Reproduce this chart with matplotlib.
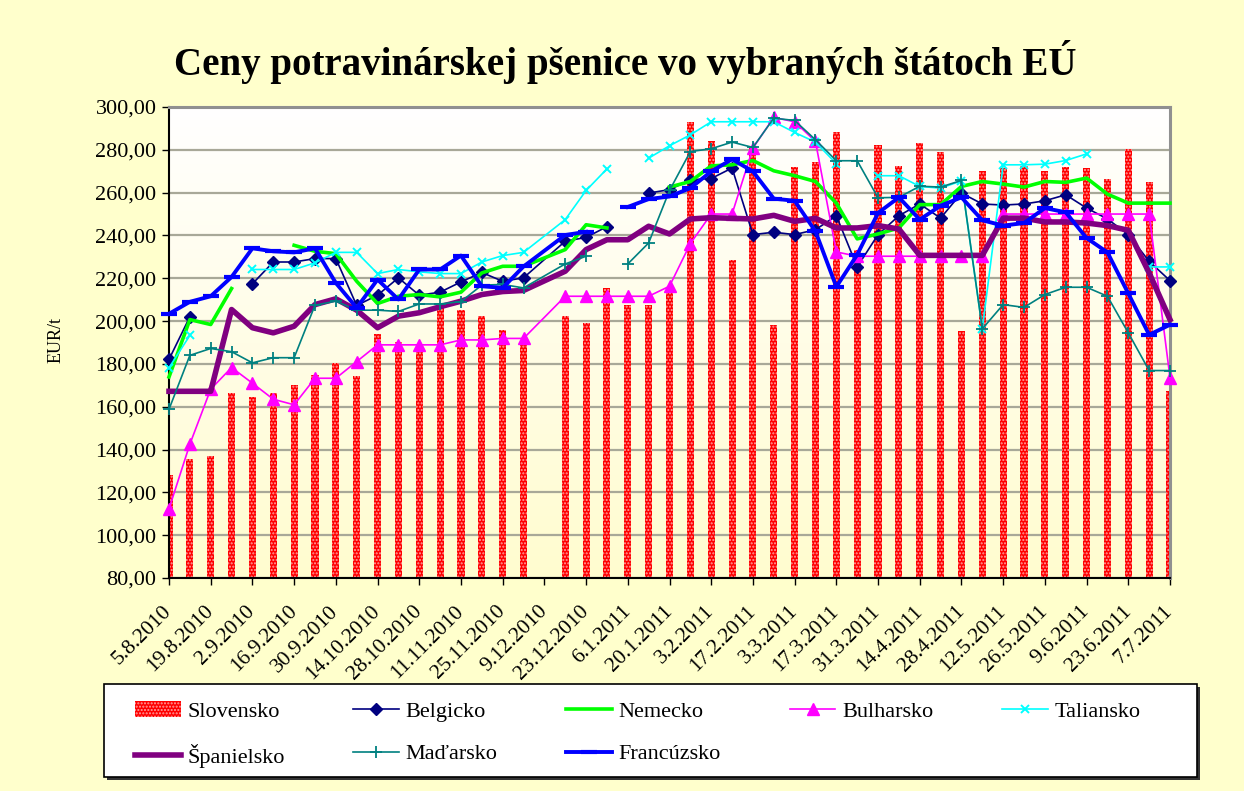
import numpy as np
import pandas as pd
import matplotlib
matplotlib.use("Agg")
import matplotlib.pyplot as plt
from matplotlib.ticker import FuncFormatter, MultipleLocator
from matplotlib.colors import LinearSegmentedColormap
from matplotlib.patches import Rectangle

plt.rcParams['font.family'] = ['Liberation Serif', 'DejaVu Serif']
plt.rcParams['hatch.linewidth'] = 1.0

nan = np.nan

# weekly quotations (no data for 9.12.2010)
dates = ["5.8.2010", "12.8.2010", "19.8.2010", "26.8.2010", "2.9.2010", "9.9.2010",
         "16.9.2010", "23.9.2010", "30.9.2010", "7.10.2010", "14.10.2010", "21.10.2010",
         "28.10.2010", "4.11.2010", "11.11.2010", "18.11.2010", "25.11.2010", "2.12.2010",
         "16.12.2010", "23.12.2010", "30.12.2010", "6.1.2011", "13.1.2011", "20.1.2011",
         "27.1.2011", "3.2.2011", "10.2.2011", "17.2.2011", "24.2.2011", "3.3.2011",
         "10.3.2011", "17.3.2011", "24.3.2011", "31.3.2011", "7.4.2011", "14.4.2011",
         "21.4.2011", "28.4.2011", "5.5.2011", "12.5.2011", "19.5.2011", "26.5.2011",
         "2.6.2011", "9.6.2011", "16.6.2011", "23.6.2011", "30.6.2011", "7.7.2011"]

tick_labels = ["5.8.2010", "19.8.2010", "2.9.2010", "16.9.2010", "30.9.2010", "14.10.2010",
               "28.10.2010", "11.11.2010", "25.11.2010", "9.12.2010", "23.12.2010", "6.1.2011",
               "20.1.2011", "3.2.2011", "17.2.2011", "3.3.2011", "17.3.2011", "31.3.2011",
               "14.4.2011", "28.4.2011", "12.5.2011", "26.5.2011", "9.6.2011", "23.6.2011",
               "7.7.2011"]

slovensko = [128.0, 135.7, 137.1, 166.6, 164.6, 166.6, 170.3, 174.6, 180.5, 174.2, 194.1, 190.3,
             188.6, 207.3, 205.4, 202.6, 195.8, 188.6,
             202.6, 198.9, 215.5, 207.3, 207.3, 214.0, 293.1, 284.2, 228.7, 281.6, 198.0, 272.2,
             274.1, 288.4, 233.2, 282.3, 272.5, 283.4, 278.8, 195.2, 270.2, 271.5, 272.5, 269.9,
             272.1, 271.6, 266.5, 280.5, 265.1, 167.2]

belgicko = [182.1, 202.0, nan, nan, 217.4, 227.6, 227.6, 229.2, 229.2, 207.3, 212.1, 220.2,
            212.1, 213.5, 218.3, 222.7, 218.6, 220.2,
            237.3, 239.1, 244.1, nan, 259.8, 261.4, 266.0, 266.6, 271.5, 240.4, 241.5, 240.4,
            242.7, 249.2, 225.3, 240.4, 249.2, 254.7, 248.1, 259.8, 254.7, 254.2, 254.7, 256.2,
            259.0, 252.8, 247.7, 240.4, 227.9, 218.9]

nemecko = [173.9, 200.7, 198.4, 215.2, nan, nan, 235.4, 232.6, 231.5, 218.6, 208.2, 211.6,
           212.4, 211.3, 213.5, 222.5, 225.6, 225.6,
           233.4, 245.0, 243.5, nan, nan, 262.6, 265.2, 272.5, 273.0, 275.0, 270.2, 267.9,
           265.2, 255.1, 238.4, 240.7, 243.5, 254.4, 254.4, 262.9, 265.2, 264.0, 262.6, 265.2,
           264.8, 266.8, 259.3, 255.1, 255.1, 255.1]

bulharsko = [112.3, 142.5, 168.2, 178.3, 171.0, 163.5, 160.9, 173.3, 173.3, 181.1, 188.9, 188.9,
             188.9, 188.9, 191.2, 191.2, 191.9, 191.9,
             211.6, 211.6, 211.6, 211.6, 211.6, 216.3, 236.2, 250.0, 250.0, 280.8, 295.1, 293.1,
             283.9, 232.3, 230.3, 230.3, 230.3, 230.3, 230.3, 230.3, 230.3, 250.0, 250.0, 250.0,
             250.0, 250.0, 250.0, 250.0, 250.0, 173.6]

taliansko = [178.2, 193.3, nan, nan, 224.1, 224.1, 224.1, 227.2, 232.1, 232.1, 222.2, 224.1,
             223.0, 222.2, 222.2, 227.6, 230.6, 232.1,
             247.4, 261.0, 271.1, nan, 276.1, 281.9, 287.0, 293.1, 293.1, 293.1, 293.1, 288.1,
             283.6, 273.5, nan, 267.9, 267.9, 262.9, 262.1, 265.5, 196.4, 273.0, 273.0, 273.3,
             275.0, 278.1, nan, nan, 225.3, 225.3]

spanielsko = [167.2, 167.2, 167.2, 205.4, 196.9, 194.5, 197.6, 207.7, 210.4, 205.1, 196.9, 202.3,
              203.9, 206.7, 209.3, 212.4, 213.8, 214.3,
              223.3, 233.4, 238.0, 238.0, 244.3, 240.7, 247.7, 248.3, 248.0, 247.7, 249.4, 246.6,
              248.0, 243.5, 243.5, 244.6, 243.0, 230.7, 230.7, 230.7, 230.7, 248.1, 248.1, 246.3,
              246.3, 245.8, 244.6, 242.4, 222.5, 200.7]

madarsko = [158.8, 184.0, 187.2, 185.7, 180.5, 182.9, 182.9, 207.4, 209.3, 205.1, 205.1, 204.5,
            208.0, 208.0, 209.1, 216.8, 217.1, 215.5,
            226.7, 230.3, nan, 226.7, 236.5, 261.0, 279.2, 280.5, 283.6, 281.1, 294.8, 293.7,
            284.7, 274.9, 274.9, 257.6, 257.8, 263.0, 262.6, 265.7, 196.4, 207.7, 206.4, 212.4,
            215.8, 215.8, 211.6, 194.5, 176.9, 176.9]

francuzsko = [203.4, 209.0, 211.6, 220.6, 234.0, 232.6, 232.1, 234.0, 217.8, 206.2, 219.4, 210.1,
              224.1, 224.1, 230.6, 216.3, 215.5, 225.5,
              240.2, 241.7, nan, 253.3, 257.0, 258.2, 262.1, 269.9, 275.6, 269.9, 257.2, 256.2,
              241.9, 216.0, 231.0, 250.5, 257.8, 247.4, 253.9, 257.8, 247.1, 244.6, 245.8, 252.8,
              250.8, 238.8, 232.1, 212.9, 193.6, 198.3]

start = pd.to_datetime(dates[0], format="%d.%m.%Y")
x = (pd.to_datetime(dates, format="%d.%m.%Y") - start).days.values / 7.0
xt = (pd.to_datetime(tick_labels, format="%d.%m.%Y") - start).days.values / 7.0

W, H = 1244, 791
fig = plt.figure(figsize=(W / 100, H / 100), dpi=100)
fig.patch.set_facecolor('#FFFFCC')

rect = [169 / W, 1 - 578 / H, (1170 - 169) / W, (578 - 107) / H]

# plot area gradient
bg = fig.add_axes(rect, zorder=0)
grad = np.linspace(0, 1, 256).reshape(-1, 1)
cmap = LinearSegmentedColormap.from_list("pa", ["#FFFFFF", "#FFFDE6", "#FFFCCF"])
bg.imshow(grad, aspect='auto', cmap=cmap, extent=[0, 1, 0, 1])
bg.axis('off')

ax = fig.add_axes(rect, zorder=1)
ax.set_facecolor('none')

ax.bar(x, slovensko, width=0.34, bottom=0, facecolor='#FF0000', edgecolor='#FFA0A0',
       hatch='.....', linewidth=0, zorder=2, label='Slovensko')

def series(vals, **kw):
    return ax.plot(x, vals, zorder=3, clip_on=False, **kw)[0]

h_bel = series(belgicko, color='#000080', lw=1.2, marker='D', ms=6.5, label='Belgicko')
h_nem = series(nemecko, color='#00FF00', lw=2.6, label='Nemecko')
h_bul = series(bulharsko, color='#FF00FF', lw=1.2, marker='^', ms=9, label='Bulharsko')
h_tal = series(taliansko, color='#00FFFF', lw=1.2, marker='x', ms=6, mew=1.4, label='Taliansko')
h_spa = series(spanielsko, color='#800080', lw=4, label='Španielsko')
h_mad = series(madarsko, color='#008080', lw=1.2, marker='+', ms=8, mew=1.3, label='Maďarsko')
h_fra = series(francuzsko, color='#0000FF', lw=2.8, marker='_', ms=11, mew=3, label='Francúzsko')

ax.set_xlim(0, 48)
ax.set_ylim(80, 300)
ax.yaxis.set_major_locator(MultipleLocator(20))
ax.yaxis.set_major_formatter(FuncFormatter(lambda v, p: f"{v:.2f}".replace('.', ',')))
ax.grid(axis='y', color='#A8A898', lw=1.6, zorder=1)
ax.set_axisbelow(True)

ax.set_xticks(xt)
ax.set_xticklabels(tick_labels, rotation=45, ha='right', va='center', rotation_mode='anchor')
ax.tick_params(axis='x', direction='out', length=5, width=1, labelsize=15.5, pad=17)
ax.tick_params(axis='y', direction='out', length=5, width=1, labelsize=16, pad=4)

for s in ['left', 'bottom']:
    ax.spines[s].set_color('black')
    ax.spines[s].set_linewidth(1.5)
for s in ['top', 'right']:
    ax.spines[s].set_color('#909090')
    ax.spines[s].set_linewidth(2.2)

fig.text(625 / W, 1 - 62 / H, "Ceny potravinárskej pšenice vo vybraných štátoch EÚ",
         ha='center', va='center', fontsize=28, fontweight='bold')
fig.text(56 / W, 1 - 340 / H, "EUR/t", rotation=90, ha='center', va='center', fontsize=13)

# legend box with shadow
fig.add_artist(Rectangle((107 / W, 1 - 780 / H), (1197 - 104) / W, (777 - 684) / H,
                         transform=fig.transFigure, facecolor='#333333', edgecolor='none',
                         zorder=2))
fig.add_artist(Rectangle((104 / W, 1 - 777 / H), (1197 - 104) / W, (777 - 684) / H,
                         transform=fig.transFigure, facecolor='white', edgecolor='black',
                         lw=1.2, zorder=3))

bars = ax.containers[0]
handles = [bars, h_spa, h_bel, h_mad, h_nem, h_fra, h_bul, h_tal]
labels = [h.get_label() for h in handles]
leg = fig.legend(handles, labels, ncol=5, loc='upper left',
                 bbox_to_anchor=(135 / W, 1 - 701 / H), fontsize=16, frameon=False,
                 handlelength=2.05, handletextpad=0.3, labelspacing=1.0,
                 columnspacing=3.1, borderpad=0, borderaxespad=0)
leg.set_zorder(4)

fig.savefig("out.png", dpi=100, facecolor=fig.get_facecolor())
